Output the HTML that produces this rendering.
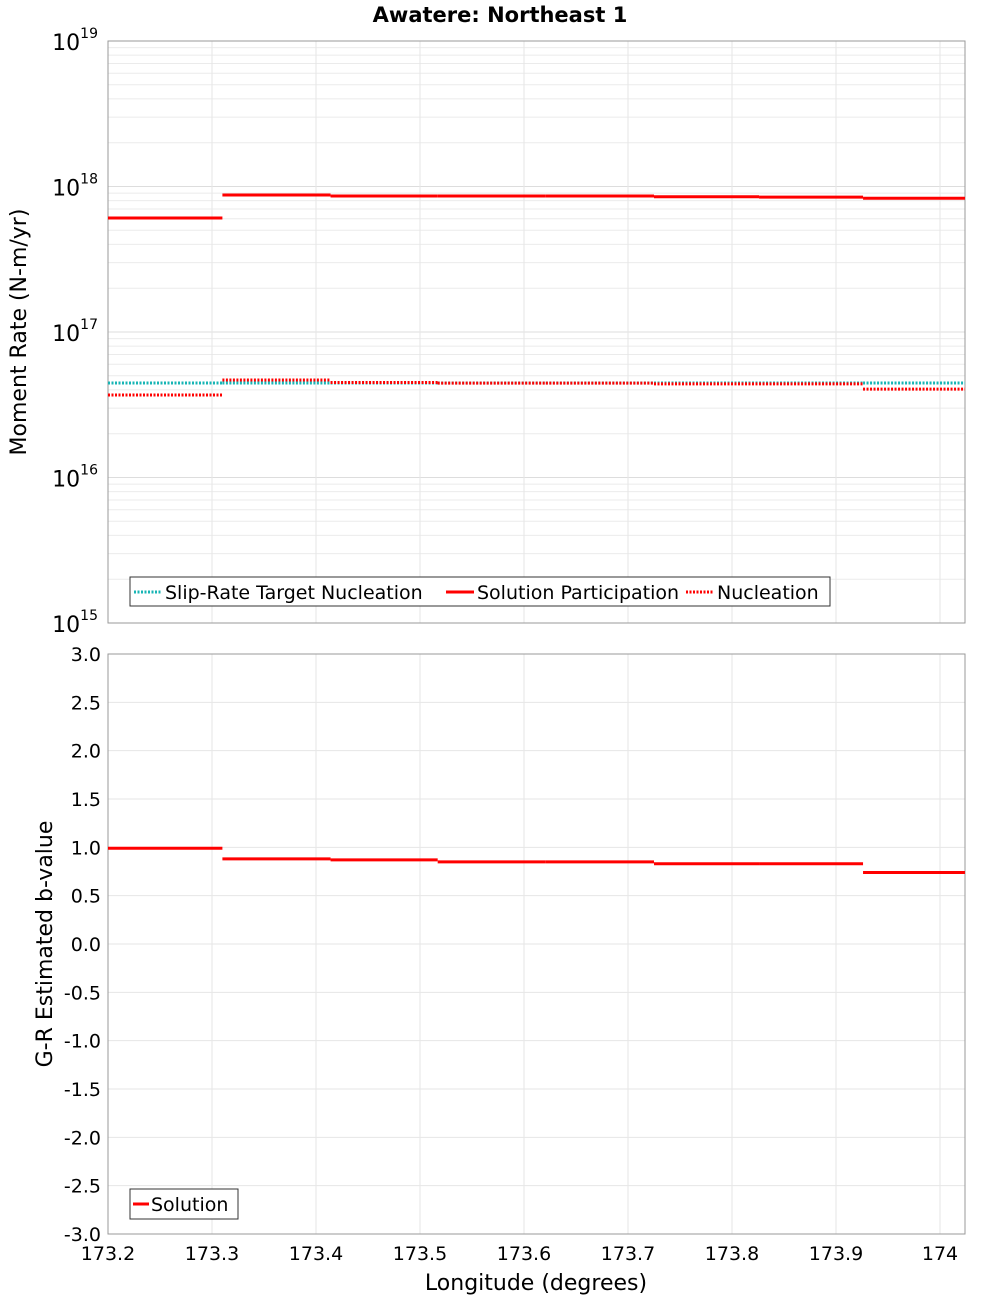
<!DOCTYPE html>
<html><head><meta charset="utf-8"><style>body{margin:0;background:#fff}svg{font-family:"Liberation Sans","DejaVu Sans",sans-serif}</style></head>
<body>
<svg id="c" width="1000" height="1300" xmlns="http://www.w3.org/2000/svg">
<text x="500" y="22" text-anchor="middle" font-size="21" font-weight="bold" font-family="DejaVu Sans, sans-serif">Awatere: Northeast 1</text>
<g id="topG"></g><g id="botG"></g>
<text transform="translate(26,332) rotate(-90)" text-anchor="middle" font-size="22" font-family="DejaVu Sans, sans-serif">Moment Rate (N-m/yr)</text>
<text transform="translate(52,944) rotate(-90)" text-anchor="middle" font-size="22" font-family="DejaVu Sans, sans-serif">G-R Estimated b-value</text>
<text x="536" y="1290" text-anchor="middle" font-size="22" font-family="DejaVu Sans, sans-serif">Longitude (degrees)</text>
</svg>
<script>
const binEdges=[173.2,173.31,173.414,173.517,173.621,173.725,173.826,173.926,174.024];
const participation=[6.08e17,8.75e17,8.6e17,8.6e17,8.6e17,8.5e17,8.46e17,8.3e17];
const targetNucleation=[4.46e16,4.46e16,4.46e16,4.46e16,4.46e16,4.46e16,4.46e16,4.46e16];
const nucleation=[3.69e16,4.68e16,4.5e16,4.45e16,4.45e16,4.4e16,4.4e16,4.05e16];
const bValues=[0.99,0.88,0.87,0.85,0.85,0.83,0.83,0.74];
const xTicks=[173.2,173.3,173.4,173.5,173.6,173.7,173.8,173.9,174];
const xTickLabels=["173.2","173.3","173.4","173.5","173.6","173.7","173.8","173.9","174"];
const logExps=[15,16,17,18,19];
const bTicks=[-3,-2.5,-2,-1.5,-1,-0.5,0,0.5,1,1.5,2,2.5,3];

const NS="http://www.w3.org/2000/svg";
const L=108,R=965;
const X=v=>L+(v-173.2)*1040;
const TT=41,TB=623,YT=v=>TT+(19-Math.log10(v))*(TB-TT)/4;
const BT=654,BB=1234,YB=v=>BT+(3-v)*(BB-BT)/6;
function mk(p,tag,a,txt){const e=document.createElementNS(NS,tag);for(const k in a)e.setAttribute(k,a[k]);if(txt!==undefined)e.textContent=txt;p.appendChild(e);return e;}
const topG=document.getElementById('topG'),botG=document.getElementById('botG');
let e=mk(topG,'rect',{x:L,y:TT,width:R-L,height:TB-TT,fill:'#fff',stroke:'#999'});


for(let d=15;d<19;d++)for(let m=1;m<10;m++){const y=YT(m*Math.pow(10,d));
 e=mk(topG,'line',{x1:L,x2:R,y1:y,y2:y,stroke:m==1?'#ddd':'#ebebeb'});
 
 }
xTicks.forEach((t,i)=>{
 e=mk(topG,'line',{x1:X(t),x2:X(t),y1:TT,y2:TB,stroke:'#e6e6e6'});
 
 
 e=mk(botG,'line',{x1:X(t),x2:X(t),y1:BT,y2:BB,stroke:'#e6e6e6'});
 
 
 e=mk(botG,'text',{x:X(t),y:1260,'text-anchor':'middle','font-size':19,'font-family':'DejaVu Sans, sans-serif'},xTickLabels[i]);
 
 
});
logExps.forEach(p=>{const y=YT(Math.pow(10,p));
 const g=mk(topG,'text',{x:98,y:y+9,'text-anchor':'end','font-size':22,'font-family':'DejaVu Sans, sans-serif'});
 
 
 mk(g,'tspan',{},'10');mk(g,'tspan',{dy:-12,'font-size':14},String(p));});
mk(topG,'rect',{x:L,y:TT,width:R-L,height:TB-TT,fill:'none',stroke:'#999'});
function steps(p,vals,Y,col,dash,w,name){vals.forEach((v,i)=>{
 const a={x1:X(binEdges[i]),x2:X(binEdges[i+1]),y1:Y(v),y2:Y(v),stroke:col,'stroke-width':w};
 if(dash)a['stroke-dasharray']=dash;e=mk(p,'line',a);
 
 });}
steps(topG,targetNucleation,YT,'#17b5b5','2,1.5',3,'target-nucleation-segment');
steps(topG,participation,YT,'#f00',null,3,'participation-segment');
steps(topG,nucleation,YT,'#f00','2,1.5',3,'nucleation-segment');
let lg=mk(topG,'g',{});


mk(lg,'rect',{x:130,y:577,width:700,height:29,fill:'#fff',stroke:'#333'});
const items=[[134,'#17b5b5','2,1.5','Slip-Rate Target Nucleation'],[446,'#f00',null,'Solution Participation'],[686,'#f00','2,1.5','Nucleation']];
items.forEach(it=>{const a={x1:it[0],x2:it[0]+28,y1:592,y2:592,stroke:it[1],'stroke-width':3};if(it[2])a['stroke-dasharray']=it[2];
 e=mk(lg,'line',a);
 
 
 e=mk(lg,'text',{x:it[0]+31,y:599,'font-size':19,'font-family':'DejaVu Sans, sans-serif'},it[3]);
 
 });
e=mk(botG,'rect',{x:L,y:BT,width:R-L,height:BB-BT,fill:'none',stroke:'#999'});


bTicks.forEach(t=>{const y=YB(t);
 e=mk(botG,'line',{x1:L,x2:R,y1:y,y2:y,stroke:'#e6e6e6'});
 
 
 e=mk(botG,'text',{x:101,y:y+7,'text-anchor':'end','font-size':19,'font-family':'DejaVu Sans, sans-serif'},t.toFixed(1));
 
 });
mk(botG,'rect',{x:L,y:BT,width:R-L,height:BB-BT,fill:'none',stroke:'#999'});
steps(botG,bValues,YB,'#f00',null,3,'b-value-segment');
lg=mk(botG,'g',{});


mk(lg,'rect',{x:130,y:1189,width:108,height:30,fill:'#fff',stroke:'#333'});
e=mk(lg,'line',{x1:133,x2:149,y1:1204,y2:1204,stroke:'#f00','stroke-width':3});


e=mk(lg,'text',{x:151,y:1211,'font-size':19,'font-family':'DejaVu Sans, sans-serif'},'Solution');


</script>
</body></html>
